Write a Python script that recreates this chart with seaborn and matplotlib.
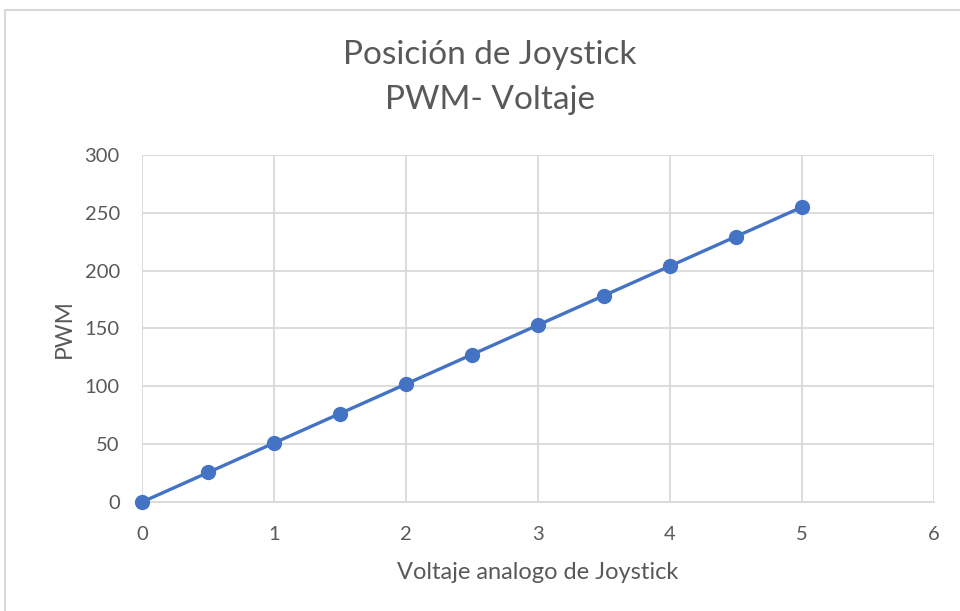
import matplotlib
matplotlib.use("Agg")
import matplotlib.pyplot as plt
import pandas as pd
import seaborn as sns

# values
voltaje = [0, 0.5, 1, 1.5, 2, 2.5, 3, 3.5, 4, 4.5, 5]
pwm = [0, 25.5, 51, 76.5, 102, 127.5, 153, 178.5, 204, 229.5, 255]

x_ticks = [0, 1, 2, 3, 4, 5, 6]
y_ticks = [0, 50, 100, 150, 200, 250, 300]

title = "Posición de Joystick\nPWM- Voltaje"
x_label = "Voltaje analogo de Joystick"
y_label = "PWM"

sns.set_theme(style="whitegrid")
plt.rcParams["font.family"] = ["Lato", "DejaVu Sans"]

text_color = "#595959"
grid_color = "#d9d9d9"
line_color = "#4472C4"

df = pd.DataFrame({"Voltaje": voltaje, "PWM": pwm})

fig = plt.figure(figsize=(9.6, 6.11), dpi=100)
ax = fig.add_axes([0.148, 0.1784, 0.825, 0.568])

sns.lineplot(data=df, x="Voltaje", y="PWM", ax=ax, color=line_color,
             linewidth=2.4, marker="o", markersize=11, markeredgewidth=0,
             zorder=3, clip_on=False)

ax.set_xlim(0, 6)
ax.set_ylim(0, 300)
ax.set_xticks(x_ticks)
ax.set_yticks(y_ticks)
ax.tick_params(axis="both", colors=text_color, labelsize=14.5, length=0)
ax.tick_params(axis="y", pad=16)
ax.tick_params(axis="x", pad=17)
ax.grid(True, color=grid_color, linewidth=1.3)
for side in ["top", "right", "left"]:
    ax.spines[side].set_visible(False)
ax.spines["bottom"].set_color(grid_color)
ax.spines["bottom"].set_linewidth(1.3)

ax.set_xlabel(x_label, fontsize=17, color=text_color, labelpad=14)
ax.set_ylabel(y_label, fontsize=16.5, color=text_color, labelpad=7)

fig.text(0.51, 0.873, title, ha="center", va="center", fontsize=24,
         color=text_color, linespacing=1.6)

# thin frame around the chart like the spreadsheet export
border = plt.Rectangle((0.005, -0.02), 1.2, 1.0035, transform=fig.transFigure,
                       fill=False, edgecolor="#d9d9d9", linewidth=1.5)
fig.add_artist(border)

fig.savefig("out.png", dpi=100)
